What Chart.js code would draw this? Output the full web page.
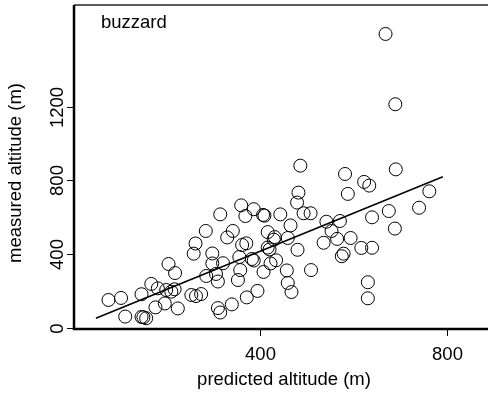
<!DOCTYPE html>
<html>
<head>
<meta charset="utf-8">
<title>buzzard</title>
<script src="https://cdn.jsdelivr.net/npm/chart.js@4"></script>
<style>
  html, body { margin: 0; padding: 0; background: #fff; }
  #chart { display: block; }
</style>
</head>
<body>
<canvas id="chart" width="488" height="394"></canvas>
<script>
// Predicted vs measured flight altitude, one panel
const panelLabel = 'buzzard';
const xTitle = 'predicted altitude (m)';
const yTitle = 'measured altitude (m)';

const predicted = [74, 101, 110, 145, 149, 155, 145, 166, 175, 195,
                   223, 180, 198, 216, 209, 203, 217, 257, 261, 252,
                   262, 273, 284, 283, 297, 297, 309, 305, 314, 320,
                   309, 314, 329, 341, 339, 352, 357, 355, 361, 370,
                   359, 368, 371, 382, 386, 386, 394, 406, 409, 407,
                   416, 420, 422, 434, 416, 431, 429, 443, 459, 457,
                   459, 467, 465, 480, 479, 482, 486, 493, 508, 509,
                   536, 542, 553, 565, 571, 582, 588, 594, 579, 575,
                   617, 623, 634, 640, 640, 631, 631, 669, 690, 691,
                   676, 689, 741, 763];
const measured  = [152, 163, 62, 60, 58, 53, 183, 239, 112, 133,
                   106, 215, 206, 210, 197, 347, 298, 403, 458, 179,
                   173, 184, 282, 526, 404, 350, 252, 293, 616, 351,
                   108, 84, 491, 526, 128, 260, 314, 385, 450, 459,
                   665, 607, 166, 374, 366, 644, 201, 613, 609, 304,
                   436, 426, 350, 367, 520, 493, 479, 616, 488, 312,
                   244, 195, 556, 424, 680, 734, 880, 622, 622, 314,
                   462, 576, 526, 483, 580, 835, 727, 488, 403, 389,
                   434, 792, 772, 600, 435, 248, 161, 1594, 1213, 860,
                   634, 539, 652, 741];

// fitted line, end points
const fitX = [47, 792];
const fitY = [53, 820];

const xTicks = [400, 800];
const yTicks = [0, 400, 800, 1200];
const xRange = [0, 889];
const yRange = [0, 1751];

(function () {
  'use strict';

  const FONT = '18.5px "Liberation Sans", Arial, sans-serif';

  // ── Axes, ticks and text drawn on top of the scatter ──
  const frame = {
    id: 'frame',
    afterDraw(chart) {
      const { ctx, chartArea: a, scales: { x, y } } = chart;
      ctx.save();
      ctx.fillStyle = '#000';
      ctx.font = FONT;

      // top border
      ctx.lineWidth = 1.5;
      ctx.strokeStyle = '#222';
      ctx.beginPath();
      ctx.moveTo(a.left, a.top);
      ctx.lineTo(a.right, a.top);
      ctx.stroke();

      // left and bottom axis lines
      ctx.strokeStyle = '#000';
      ctx.lineWidth = 2.5;
      ctx.beginPath();
      ctx.moveTo(a.left, a.top);
      ctx.lineTo(a.left, a.bottom + 1);
      ctx.lineTo(a.right, a.bottom + 1);
      ctx.stroke();

      // x ticks
      ctx.lineWidth = 1;
      ctx.textAlign = 'center';
      ctx.textBaseline = 'alphabetic';
      xTicks.forEach(v => {
        const px = Math.round(x.getPixelForValue(v)) + 0.5;
        ctx.beginPath();
        ctx.moveTo(px, a.bottom + 2);
        ctx.lineTo(px, a.bottom + 8);
        ctx.stroke();
        ctx.fillText(String(v), px, 360);
      });

      // y ticks, labels rotated
      yTicks.forEach(v => {
        const py = Math.round(y.getPixelForValue(v)) + 0.5;
        ctx.beginPath();
        ctx.moveTo(a.left - 7, py);
        ctx.lineTo(a.left, py);
        ctx.stroke();
        ctx.save();
        ctx.translate(63, py);
        ctx.rotate(-Math.PI / 2);
        ctx.fillText(String(v), 0, 0);
        ctx.restore();
      });

      // axis titles
      ctx.fillText(xTitle, 284, 385);
      ctx.save();
      ctx.translate(21, 173);
      ctx.rotate(-Math.PI / 2);
      ctx.fillText(yTitle, 0, 0);
      ctx.restore();

      // panel label
      ctx.textAlign = 'left';
      ctx.fillText(panelLabel, 101, 28);

      ctx.restore();
    }
  };

  const points = predicted.map((p, i) => ({ x: p, y: measured[i] }));
  const fit = fitX.map((p, i) => ({ x: p, y: fitY[i] }));

  new Chart(document.getElementById('chart'), {
    type: 'scatter',
    data: {
      datasets: [
        {
          data: points,
          pointRadius: 6.5,
          pointHoverRadius: 6.5,
          pointBorderWidth: 1,
          pointBorderColor: '#000',
          pointBackgroundColor: 'rgba(0,0,0,0)',
          showLine: false
        },
        {
          data: fit,
          showLine: true,
          pointRadius: 0,
          borderColor: '#000',
          borderWidth: 1.5
        }
      ]
    },
    options: {
      responsive: false,
      animation: false,
      events: [],
      layout: {
        autoPadding: false,
        padding: { left: 74, top: 5, right: 0, bottom: 66 }
      },
      plugins: { legend: { display: false }, tooltip: { enabled: false } },
      scales: {
        x: { type: 'linear', display: false, min: xRange[0], max: xRange[1] },
        y: { type: 'linear', display: false, min: yRange[0], max: yRange[1] }
      }
    },
    plugins: [frame]
  });
})();
</script>
</body>
</html>
